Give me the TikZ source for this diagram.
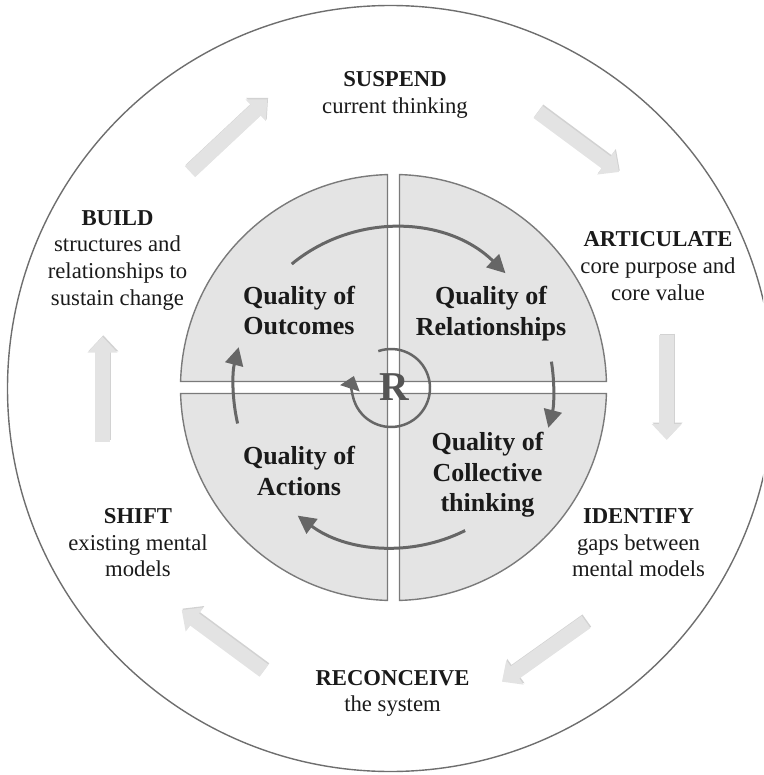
\documentclass[tikz,border=0pt]{standalone}
\usepackage{fontspec}
\setmainfont{Liberation Serif}
\usetikzlibrary{arrows.meta,calc}

\definecolor{ringline}{HTML}{6E6E6E}
\definecolor{quadfill}{HTML}{E4E4E4}
\definecolor{quadline}{HTML}{7A7A7A}
\definecolor{cycleline}{HTML}{666666}
\definecolor{stepgray}{HTML}{E3E3E3}
\definecolor{stepshade}{HTML}{D2D2D2}
\definecolor{inktext}{HTML}{1A1A1A}
\definecolor{rletter}{HTML}{555555}

\begin{document}
\begin{tikzpicture}[x=1pt,y=1pt,yscale=-1,
  ring/.style={draw=ringline, line width=1.4pt},
  quadrant/.style={fill=quadfill, draw=quadline, line width=1.4pt, line join=miter},
  cyclearrow/.style={draw=cycleline, line width=3pt, -{Triangle[length=18pt,width=18pt]}},
  phase/.style={line width=15pt, draw=stepgray, -{Triangle[length=16pt,width=29pt]}},
  phaseshade/.style={line width=15pt, draw=stepshade, -{Triangle[length=16pt,width=29pt]},
    transform canvas={shift={(0.8,1.4)}}},
  quality/.style={font=\fontsize{26}{30.5}\selectfont\bfseries, text=inktext,
    align=center, inner sep=0pt, anchor=north},
  stagebox/.style={font=\fontsize{22.7}{26.7}\selectfont, text=inktext,
    align=center, inner sep=0pt, anchor=north},
]
\useasboundingbox (0,0) rectangle (763,775);
\clip (0,0) rectangle (763,775);

% centres
\coordinate (O) at (390.5,388.5);
\coordinate (C) at (393.5,387.5);
\coordinate (Rc) at (391,388);

% outer ring
\draw[ring] (O) circle[radius=383];

% four quarter discs separated by a cross-shaped gap
\draw[quadrant] (387.5,381.5) -- (180.58,381.5)
  arc[start angle=181.61, end angle=268.39, radius=213] -- cycle;
\draw[quadrant] (399.5,381.5) -- (399.5,174.58)
  arc[start angle=271.61, end angle=358.39, radius=213] -- cycle;
\draw[quadrant] (399.5,393.5) -- (606.42,393.5)
  arc[start angle=1.61, end angle=88.39, radius=213] -- cycle;
\draw[quadrant] (387.5,393.5) -- (387.5,600.42)
  arc[start angle=91.61, end angle=178.39, radius=213] -- cycle;

% clockwise cycle arrows around the quadrants
\draw[cyclearrow] ($(C)+(230.5:160)$) arc[start angle=230.5, end angle=314.4, radius=160];
\draw[cyclearrow] ($(C)+(-9.3:160)$) arc[start angle=-9.3, end angle=14.6, radius=160];
\draw[cyclearrow] ($(C)+(63.4:160)$) arc[start angle=63.4, end angle=126.8, radius=160];
\draw[cyclearrow] ($(C)+(167:160)$) arc[start angle=167, end angle=194.6, radius=160];

% reinforcing loop in the middle
\draw[draw=cycleline, line width=2.5pt, -{Triangle[length=13pt,width=20pt]}]
  ($(Rc)+(-109:39)$) arc[start angle=-109, end angle=198, radius=39];
\node[font=\fontsize{41}{41}\selectfont\bfseries, text=rletter, inner sep=0pt] (rmark) at (394,387.5) {R};

% quality labels
\node[quality] (outcomes) at (299,285.6) {Quality of\\Outcomes};
\node[quality] (relations) at (491,286.3) {Quality of\\Relationships};
\node[quality] (collective) at (487.5,432.3) {Quality of\\Collective\\thinking};
\node[quality] (actions) at (299,446.3) {Quality of\\Actions};

% stage labels around the ring
\node[stagebox] (suspend) at (395,71.7) {\textbf{SUSPEND}\\current thinking};
\node[stagebox] (articulate) at (658,231.7) {\textbf{ARTICULATE}\\core purpose and\\core value};
\node[stagebox] (identify) at (638.5,508.3) {\textbf{IDENTIFY}\\gaps between\\mental models};
\node[stagebox] (reconceive) at (392.5,670) {\textbf{RECONCEIVE}\\the system};
\node[stagebox] (shift) at (138,508.3) {\textbf{SHIFT}\\existing mental\\models};
\node[stagebox] (build) at (117.5,210) {\textbf{BUILD}\\structures and\\relationships to\\sustain change};

% end points of the block arrows between stages
\coordinate (bs0) at (190,171.7);   \coordinate (bs1) at (267.3,99.3);
\coordinate (sa0) at (538,112);     \coordinate (sa1) at (619,172);
\coordinate (ai0) at (666.7,335);   \coordinate (ai1) at (666.7,440);
\coordinate (ir0) at (586,622);     \coordinate (ir1) at (502,681.7);
\coordinate (rs0) at (264,670.7);   \coordinate (rs1) at (181.7,610);
\coordinate (sb0) at (102.5,441.7); \coordinate (sb1) at (102.5,336.7);

\foreach \a/\b in {bs0/bs1, sa0/sa1, ai0/ai1, ir0/ir1, rs0/rs1, sb0/sb1}{
  \draw[phaseshade] (\a) -- (\b);
  \draw[phase] (\a) -- (\b);
}
\end{tikzpicture}
\end{document}
